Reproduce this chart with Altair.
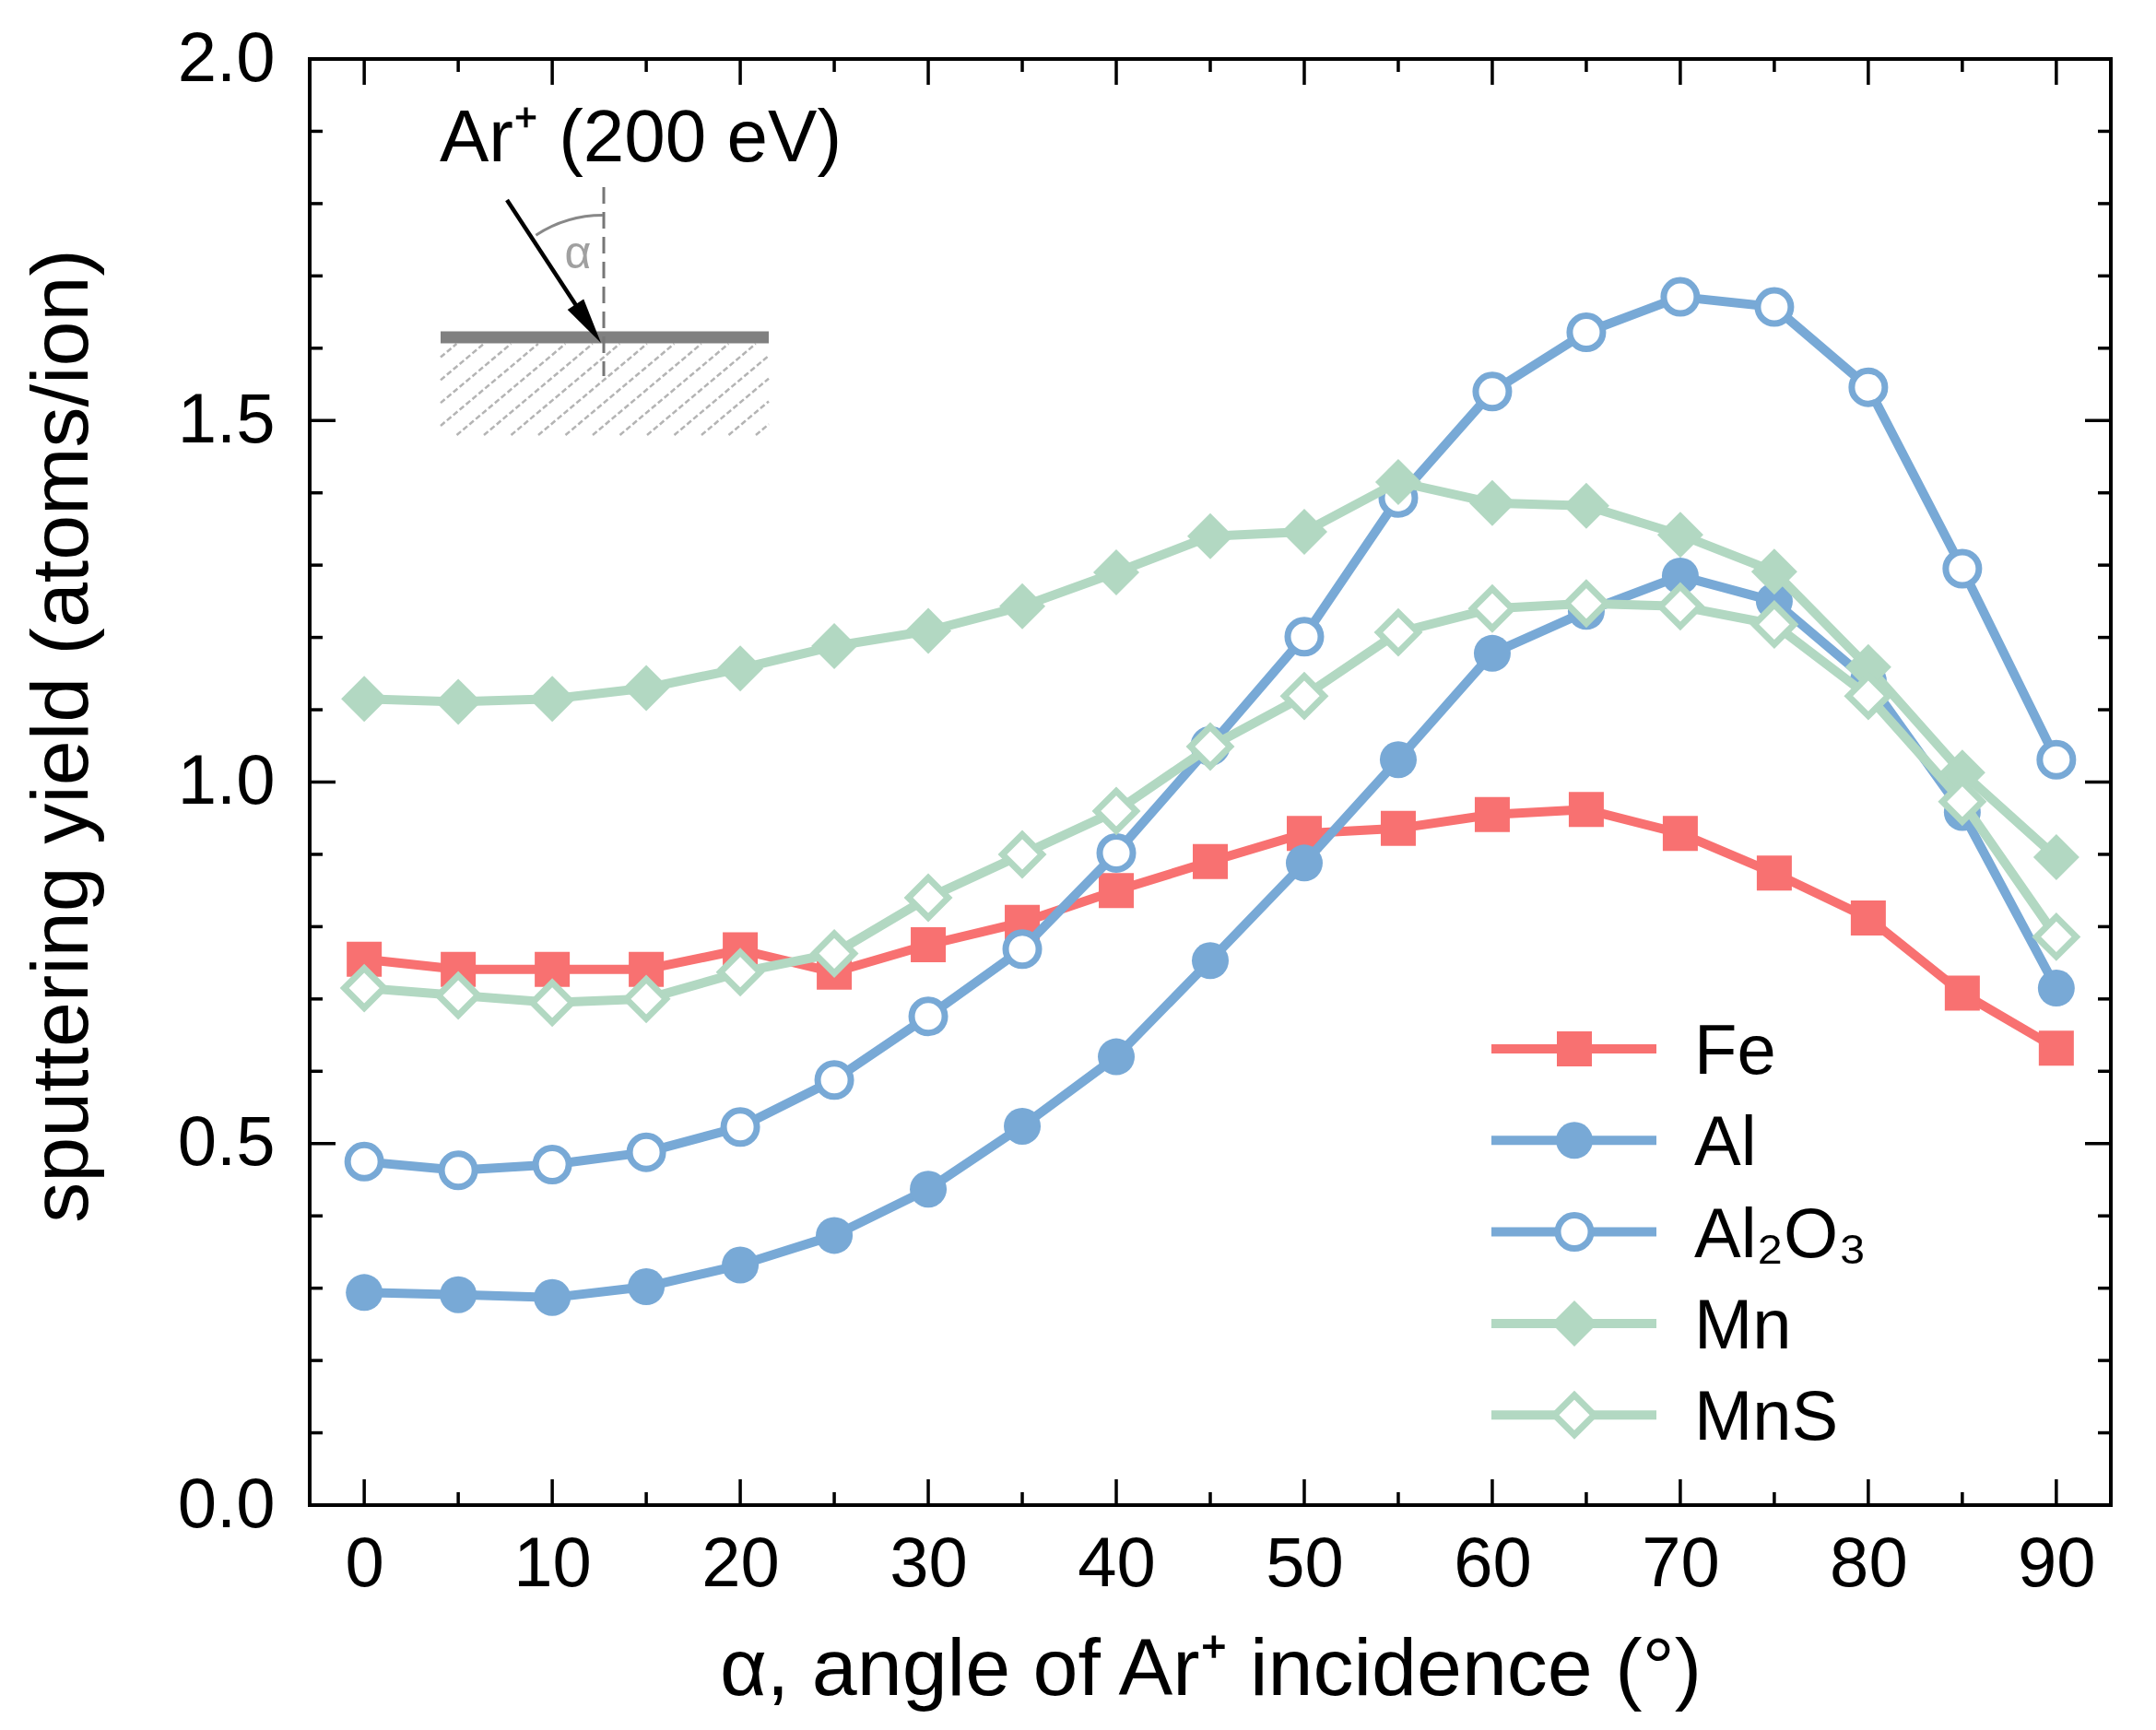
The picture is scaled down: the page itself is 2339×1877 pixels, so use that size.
import altair as alt
import pandas as pd
import numpy as np

# ---------------- data ----------------
angles = [0, 5, 10, 15, 20, 25, 30, 35, 40, 45, 50, 55, 60, 65, 70, 75, 80, 85, 90]
fe    = [0.755, 0.741, 0.741, 0.741, 0.768, 0.737, 0.775, 0.806, 0.850, 0.890, 0.929, 0.936, 0.955, 0.962, 0.929, 0.874, 0.812, 0.708, 0.632]
al    = [0.294, 0.291, 0.287, 0.302, 0.332, 0.373, 0.437, 0.524, 0.620, 0.753, 0.888, 1.031, 1.178, 1.236, 1.285, 1.250, 1.140, 0.958, 0.715]
al2o3 = [0.475, 0.463, 0.471, 0.488, 0.523, 0.588, 0.676, 0.769, 0.902, 1.050, 1.201, 1.393, 1.540, 1.622, 1.671, 1.657, 1.546, 1.295, 1.031]
mn    = [1.115, 1.111, 1.115, 1.130, 1.157, 1.188, 1.209, 1.243, 1.290, 1.340, 1.346, 1.415, 1.386, 1.382, 1.342, 1.291, 1.159, 1.013, 0.896]
mns   = [0.715, 0.705, 0.695, 0.700, 0.737, 0.763, 0.840, 0.900, 0.960, 1.049, 1.119, 1.207, 1.240, 1.247, 1.243, 1.218, 1.119, 0.973, 0.786]

series_names = ["Fe", "Al", "Al2O3", "Mn", "MnS"]
legend_labels = ["Fe", "Al", "Al\u2082O\u2083", "Mn", "MnS"]
series_values = [fe, al, al2o3, mn, mns]

x_major = [0, 10, 20, 30, 40, 50, 60, 70, 80, 90]
x_minor = [5, 15, 25, 35, 45, 55, 65, 75, 85]
y_major = [0.0, 0.5, 1.0, 1.5, 2.0]
y_minor = [0.1, 0.2, 0.3, 0.4, 0.6, 0.7, 0.8, 0.9, 1.1, 1.2, 1.3, 1.4, 1.6, 1.7, 1.8, 1.9]

# ---------------- styles ----------------
FONT = "Liberation Sans"
W, H = 1954, 1569
RED = "#F87171"
BLUE = "#78A9D6"
GREEN = "#B2D8C2"
styles = {
    "Fe":    dict(color=RED,   shape="square",  size=1444, open=False),
    "Al":    dict(color=BLUE,  shape="circle",  size=1600, open=False),
    "Al2O3": dict(color=BLUE,  shape="circle",  size=1296, open=True),
    "Mn":    dict(color=GREEN, shape="diamond", size=2500, open=False),
    "MnS":   dict(color=GREEN, shape="diamond", size=1850, open=True),
}
LINE_W = 10
OPEN_W = 7

x_scale = alt.Scale(domain=[-2.9, 92.9], nice=False, zero=False)
y_scale = alt.Scale(domain=[0, 2], nice=False, zero=False)

x_axis = alt.Axis(
    values=x_major, format="d", ticks=False, tickSize=0, domain=False, grid=False,
    labelFont=FONT, labelFontSize=76, labelColor="black", labelPadding=87,
    labelBaseline="alphabetic", labelOverlap=False,
    title="\u03b1, angle of Ar\u207a incidence (\u00b0)", titleFont=FONT, titleFontSize=88,
    titleFontWeight="normal", titleColor="black", titleX=977, titleY=205,
    titleBaseline="alphabetic", titleAlign="center", titleAngle=0,
)
y_axis = alt.Axis(
    values=y_major, format=".1f", ticks=False, tickSize=0, domain=False, grid=False,
    labelFont=FONT, labelFontSize=76, labelColor="black", labelPadding=38,
    labelAlign="right", labelBaseline="middle", labelOverlap=False,
    title="sputtering yield (atoms/ion)", titleFont=FONT, titleFontSize=88,
    titleFontWeight="normal", titleColor="black", titleX=-242, titleY=734,
    titleBaseline="alphabetic", titleAlign="center", titleAngle=270,
)


def X(field):
    return alt.X(field, scale=x_scale, axis=x_axis)


def Y(field):
    return alt.Y(field, scale=y_scale, axis=y_axis)


layers = []

# ---------------- data series ----------------
for name, vals in zip(series_names, series_values):
    st = styles[name]
    df = pd.DataFrame({"angle": angles, "y": vals, "series": name})
    line = alt.Chart(df).mark_line(color=st["color"], strokeWidth=LINE_W, strokeJoin="round").encode(
        x=X("angle:Q"), y=Y("y:Q"))
    if st["open"]:
        pt = alt.Chart(df).mark_point(shape=st["shape"], size=st["size"], filled=True, fill="white",
                                      stroke=st["color"], strokeWidth=OPEN_W, opacity=1, fillOpacity=1)
    else:
        pt = alt.Chart(df).mark_point(shape=st["shape"], size=st["size"], filled=True,
                                      color=st["color"], strokeWidth=0, opacity=1)
    pt = pt.encode(x=X("angle:Q"), y=Y("y:Q"))
    layers += [line, pt]

# ---------------- inward ticks on all four sides ----------------
MAJ, MIN, TW = 28, 14, 3.5
dxM = pd.DataFrame({"v": x_major})
dxm = pd.DataFrame({"v": x_minor})
dyM = pd.DataFrame({"v": y_major})
dym = pd.DataFrame({"v": y_minor})
for d, L in ((dxM, MAJ), (dxm, MIN)):
    layers.append(alt.Chart(d).mark_rule(color="black", strokeWidth=TW).encode(x=X("v:Q"), y=alt.value(H), y2=alt.value(H - L)))
    layers.append(alt.Chart(d).mark_rule(color="black", strokeWidth=TW).encode(x=X("v:Q"), y=alt.value(0), y2=alt.value(L)))
for d, L in ((dyM, MAJ), (dym, MIN)):
    layers.append(alt.Chart(d).mark_rule(color="black", strokeWidth=TW).encode(y=Y("v:Q"), x=alt.value(0), x2=alt.value(L)))
    layers.append(alt.Chart(d).mark_rule(color="black", strokeWidth=TW).encode(y=Y("v:Q"), x=alt.value(W), x2=alt.value(W - L)))

# ---------------- inset schematic ----------------
one = pd.DataFrame({"k": [0]})
layers.append(alt.Chart(one).mark_text(text="Ar\u207a (200 eV)", align="left", baseline="alphabetic",
                                       font=FONT, fontSize=80, color="black").encode(x=alt.value(141), y=alt.value(111)))
# hatch below surface
hx0, hx1, hy0, hy1 = 142, 498, 309, 408
slope = 0.84
rows = []
for c in np.arange(hx0 - 130, hx1, 29.5):
    t0 = max(0.0, hx0 - c)
    t1 = min((hy1 - hy0) / slope, hx1 - c)
    if t1 > t0 + 2:
        rows.append({"x1": c + t0, "y1": hy1 - slope * t0, "x2": c + t1, "y2": hy1 - slope * t1})
hatch = pd.DataFrame(rows)
layers.append(alt.Chart(hatch).mark_rule(color="#b4b4b4", strokeWidth=2.5, strokeDash=[6, 3]).encode(
    x=alt.X("x1:Q", scale=None, axis=None), y=alt.Y("y1:Q", scale=None, axis=None),
    x2=alt.X2("x2:Q"), y2=alt.Y2("y2:Q")))
# surface bar
layers.append(alt.Chart(one).mark_rule(color="#808080", strokeWidth=13).encode(
    x=alt.value(142), x2=alt.value(498), y=alt.value(302)))
# surface normal (dashed)
layers.append(alt.Chart(one).mark_rule(color="#777777", strokeWidth=3, strokeDash=[18, 9]).encode(
    x=alt.value(319), y=alt.value(139), y2=alt.value(344)))
# angle arc
layers.append(alt.Chart(one).mark_arc(radius=134, radius2=131, theta=2 * np.pi - 0.58, theta2=2 * np.pi,
                                      color="#888888").encode(x=alt.value(318), y=alt.value(302)))
# alpha label
layers.append(alt.Chart(one).mark_text(text="\u03b1", align="center", baseline="middle", font=FONT,
                                       fontSize=50, color="#a0a0a0").encode(x=alt.value(291), y=alt.value(212)))
# incoming ion arrow
layers.append(alt.Chart(one).mark_rule(color="black", strokeWidth=4.5).encode(
    x=alt.value(214), y=alt.value(153), x2=alt.value(296), y2=alt.value(278)))
layers.append(alt.Chart(one).mark_point(shape="M0,1L-0.42,-1L0.42,-1Z", size=2500, filled=True, color="black",
                                        strokeWidth=0, opacity=1, angle=326.6).encode(
    x=alt.value(302.2), y=alt.value(287.1)))

# ---------------- legend ----------------
LEG_Y0, LEG_DY = 1074, 99.3
for i, (name, lab) in enumerate(zip(series_names, legend_labels)):
    st = styles[name]
    ly = LEG_Y0 + i * LEG_DY
    layers.append(alt.Chart(one).mark_rule(color=st["color"], strokeWidth=LINE_W).encode(
        x=alt.value(1282), x2=alt.value(1461), y=alt.value(ly)))
    if st["open"]:
        p = alt.Chart(one).mark_point(shape=st["shape"], size=st["size"], filled=True, fill="white",
                                      stroke=st["color"], strokeWidth=OPEN_W, opacity=1)
    else:
        p = alt.Chart(one).mark_point(shape=st["shape"], size=st["size"], filled=True,
                                      color=st["color"], strokeWidth=0, opacity=1)
    layers.append(p.encode(x=alt.value(1372), y=alt.value(ly)))
    layers.append(alt.Chart(one).mark_text(text=lab, align="left", baseline="alphabetic", font=FONT,
                                           fontSize=76, color="black").encode(
        x=alt.value(1502), y=alt.value(ly + 27)))

chart = alt.layer(*layers).properties(
    width=W, height=H,
    padding={"left": 336, "top": 64, "right": 49, "bottom": 244},
    autosize=alt.AutoSizeParams(type="none"),
    background="white",
).configure_view(stroke="black", strokeWidth=4)

chart.save("out.html", embed_options={"renderer": "svg", "actions": False})
